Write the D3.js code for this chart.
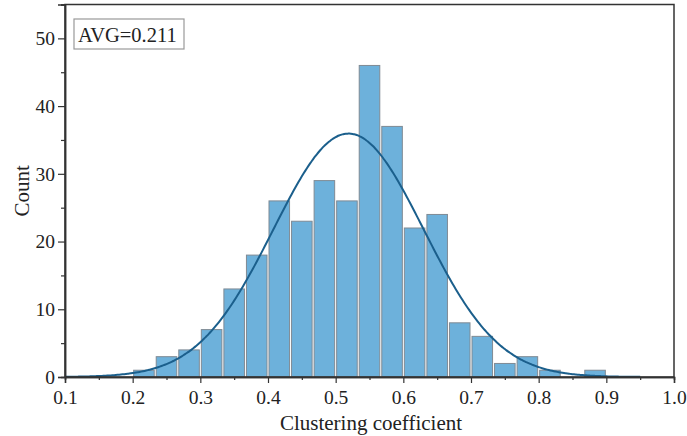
<!DOCTYPE html>
<html><head><meta charset="utf-8">
<script src="https://cdn.jsdelivr.net/npm/d3@7"></script>
<style>body{margin:0;background:#fff}svg{display:block}</style>
</head><body><div id="chart"></div>
<script>
// Histogram bins (lower edges) and counts
const binStart = 0.2;
const binWidth = 1/30;
const counts = [1,3,4,7,13,18,26,23,29,26,46,37,22,24,8,6,2,3,1,0,1];
// Fitted normal curve parameters
const fitMean = 0.519;
const fitSD = 0.111;
const xTicks = [0.1,0.2,0.3,0.4,0.5,0.6,0.7,0.8,0.9,1.0];
const yTicks = [0,10,20,30,40,50];
const annotation = "AVG=0.211";

const W = 687, H = 436;
const m = {l:65, r:13, t:4.5, b:59};
const svg = d3.select("#chart").append("svg").attr("width",W).attr("height",H);
const x = d3.scaleLinear().domain([0.1,1.0]).range([m.l, W-m.r]);
const y = d3.scaleLinear().domain([0,55]).range([H-m.b, m.t]);
const font = "'Liberation Serif','Times New Roman',serif";

const bins = counts.map((c,i)=>({x0: binStart + i*binWidth, x1: binStart+(i+1)*binWidth, c}));
svg.append("g").selectAll("rect").data(bins.filter(d=>d.c>0)).join("rect")
  .attr("x", d=>x(d.x0)+1).attr("width", d=>x(d.x1)-x(d.x0)-2)
  .attr("y", d=>y(d.c)).attr("height", d=>y(0)-y(d.c))
  .attr("fill","#6db1db").attr("stroke","#7f8a94").attr("stroke-width",1);

// normal fit curve
const N = d3.sum(counts);
const amp = N*binWidth/(fitSD*Math.sqrt(2*Math.PI));
const xs = d3.range(0.1, 0.9501, 0.0025);
const line = d3.line().x(d=>x(d)).y(d=>y(amp*Math.exp(-0.5*((d-fitMean)/fitSD)**2))).curve(d3.curveBasis);
svg.append("path").datum(xs).attr("d", line).attr("fill","none").attr("stroke","#1b5f8c").attr("stroke-width",2);

// frame
svg.append("rect").attr("x",x(0.1)).attr("y",y(55)).attr("width",x(1.0)-x(0.1)).attr("height",y(0)-y(55))
  .attr("fill","none").attr("stroke","#333").attr("stroke-width",1.5);

// axes
const xAx = svg.append("g").attr("transform",`translate(0,${y(0)})`);
xAx.call(d3.axisBottom(x).tickValues(xTicks).tickFormat(d3.format(".1f")).tickSize(6).tickPadding(7));
const xMinor = svg.append("g").attr("transform",`translate(0,${y(0)})`)
  .call(d3.axisBottom(x).tickValues(xTicks.slice(0,-1).map(v=>v+0.05)).tickFormat("").tickSize(3));
const yAx = svg.append("g").attr("transform",`translate(${x(0.1)},0)`);
yAx.call(d3.axisLeft(y).tickValues(yTicks).tickSize(7).tickPadding(3));
const yMinor = svg.append("g").attr("transform",`translate(${x(0.1)},0)`)
  .call(d3.axisLeft(y).tickValues(yTicks.map(v=>v+5)).tickFormat("").tickSize(4));
[xAx,xMinor,yAx,yMinor].forEach(g=>{
  g.select(".domain").attr("stroke","#333").attr("stroke-width",1.5);
  g.selectAll(".tick line").attr("stroke","#333").attr("stroke-width",1.2);
  g.selectAll("text").attr("font-family",font).attr("font-size",19.5).attr("fill","#222");
});

// axis titles
svg.append("text").attr("x",371).attr("y",430).attr("text-anchor","middle")
  .attr("font-family",font).attr("font-size",21).attr("fill","#222").text("Clustering coefficient");
svg.append("text").attr("transform",`translate(29,${(y(0)+y(55))/2}) rotate(-90)`).attr("text-anchor","middle")
  .attr("font-family",font).attr("font-size",21).attr("fill","#222").text("Count");

// annotation box
const ag = svg.append("g");
ag.append("rect").attr("x",74).attr("y",19).attr("width",110).attr("height",30)
  .attr("fill","#fff").attr("stroke","#999").attr("stroke-width",1.2);
ag.append("text").attr("x",78).attr("y",42).attr("font-family",font).attr("font-size",20.5).attr("fill","#222").text(annotation);
</script></body></html>
